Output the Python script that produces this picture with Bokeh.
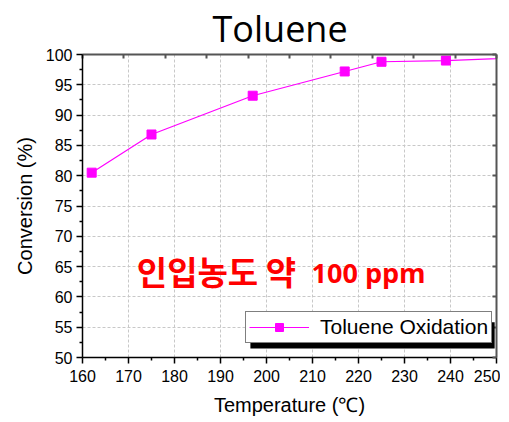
from bokeh.plotting import figure
from bokeh.models import (LinearAxis, FixedTicker, Range1d, Legend, LegendItem,
                          BoxAnnotation, Label)
from bokeh.embed import file_html
from bokeh.resources import INLINE

# ---- data ----
temperature = [162, 175, 197, 217, 225, 239, 260]
conversion = [80.5, 86.8, 93.2, 97.2, 98.8, 99.0, 99.6]
series_name = "Toluene Oxidation"
title_text = "Toluene"
x_label = "Temperature (\u2103)"
y_label = "Conversion (%)"
note_kr = "\uc778\uc785\ub18d\ub3c4 \uc57d"
note_en = "100 ppm"
x_ticks = [160, 170, 180, 190, 200, 210, 220, 230, 240, 250]
y_ticks = [50, 55, 60, 65, 70, 75, 80, 85, 90, 95, 100]
top_ticks = [160, 169, 178, 187, 196, 205, 214, 223, 232, 241, 250]

MAG = "#FF00FF"
FONT = "Liberation Sans"

p = figure(frame_width=414, frame_height=303, output_backend="svg",
           toolbar_location=None, x_range=Range1d(160, 250), y_range=Range1d(50, 100),
           min_border_left=82, min_border_top=53, min_border_right=4, min_border_bottom=58,
           background_fill_color="white", border_fill_color="white")
p.outline_line_color = None

# title
p.title.text = title_text
p.title.text_font = "Open Sans"
p.title.text_font_size = "36px"
p.title.text_font_style = "normal"
p.title.align = "left"
p.title.offset = 130
p.title.standoff = 3
p.title.text_color = "black"

# grids
for g, t in ((p.xgrid, x_ticks), (p.ygrid, y_ticks)):
    g.ticker = FixedTicker(ticks=t)
    g.grid_line_color = "#c8c8c8"
    g.grid_line_dash = "3 2"
    g.grid_line_width = 1

# primary axes
xa = p.xaxis[0]
xa.ticker = FixedTicker(ticks=x_ticks, minor_ticks=[165 + 10 * i for i in range(9)])
ya = p.yaxis[0]
ya.ticker = FixedTicker(ticks=y_ticks, minor_ticks=[52.5 + 5 * i for i in range(10)])
for ax, lab in ((xa, x_label), (ya, y_label)):
    ax.axis_label = lab
    ax.axis_label_text_font = FONT
    ax.axis_label_text_font_size = "20px"
    ax.axis_label_text_font_style = "normal"
    ax.axis_label_text_color = "black"
    ax.major_label_text_font = FONT
    ax.major_label_text_font_size = "16px"
    ax.major_label_text_color = "black"
    ax.axis_line_color = "black"
    ax.axis_line_width = 1.5
    ax.major_tick_line_color = "black"
    ax.minor_tick_line_color = "black"
    ax.major_tick_line_width = 1.5
    ax.minor_tick_line_width = 1.5
    ax.major_tick_in = 0
    ax.major_tick_out = 6
    ax.minor_tick_in = 0
    ax.minor_tick_out = 3
xa.major_label_standoff = 6
ya.major_label_standoff = 4
xa.axis_label_standoff = 9
ya.axis_label_standoff = 7

# top and right axes (ticks inside, no labels)
top = LinearAxis(ticker=FixedTicker(ticks=top_ticks, minor_ticks=[]))
right = LinearAxis(ticker=FixedTicker(ticks=y_ticks, minor_ticks=[]))
for ax, tk in ((top, top_ticks), (right, y_ticks)):
    ax.major_label_overrides = {t: "" for t in tk}
    ax.major_label_text_color = None
    ax.major_label_standoff = 0
    ax.axis_line_color = "#555555"
    ax.axis_line_width = 2
    ax.major_tick_line_color = "#555555"
    ax.major_tick_line_width = 2
    ax.major_tick_in = 4
    ax.major_tick_out = 0
    ax.minor_tick_in = 0
    ax.minor_tick_out = 0
p.add_layout(top, "above")
p.add_layout(right, "right")

# series
ln = p.line(temperature, conversion, line_color=MAG, line_width=1.2)
mk = p.scatter(temperature, conversion, marker="square", size=9,
               fill_color=MAG, line_color=MAG)

# annotation text
p.add_layout(Label(x=171.8, y=64.2, text=note_kr, text_font="Noto Sans CJK KR",
                   text_font_size="33px", text_font_style="bold", text_color="red",
                   text_baseline="middle"))
p.add_layout(Label(x=209.8, y=64.0, text=note_en, text_font="Open Sans",
                   text_font_size="27px", text_font_style="bold", text_color="red",
                   text_baseline="middle"))

# legend shadow
p.add_layout(BoxAnnotation(left=196.5, right=249.6, top=55.8, bottom=51.5,
                           fill_color="black", fill_alpha=1, line_color=None))

legend = Legend(items=[LegendItem(label=series_name, renderers=[ln, mk])],
                location=(163, 14), orientation="vertical")
legend.label_text_font = FONT
legend.label_text_font_size = "21px"
legend.label_text_color = "black"
legend.glyph_width = 60
legend.glyph_height = 20
legend.label_height = 20
legend.padding = 3
legend.spacing = 0
legend.margin = 0
legend.label_standoff = 11
legend.border_line_color = "black"
legend.border_line_width = 1
legend.background_fill_color = "white"
legend.background_fill_alpha = 1
p.add_layout(legend, "center")

open("out.html", "w").write(file_html(p, INLINE))
